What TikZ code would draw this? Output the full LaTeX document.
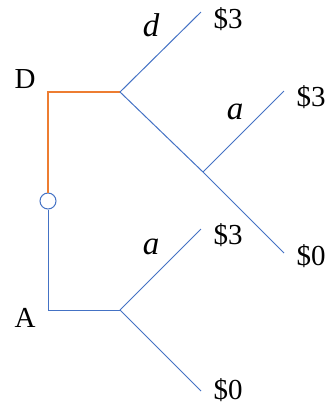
\documentclass[tikz,border=0pt]{standalone}
\usepackage{fontspec}
\setmainfont{Liberation Serif}
\definecolor{branchBlue}{RGB}{68,114,196}
\definecolor{pathOrange}{RGB}{237,125,49}

\begin{document}
\begin{tikzpicture}[x=1pt, y=-1pt, font=\fontsize{29}{34}\selectfont,
		branch/.style={branchBlue, line width=1pt},
		chosen/.style={pathOrange, line width=2.8pt},
		payoff/.style={anchor=center, inner sep=0pt},
		action/.style={anchor=center, inner sep=0pt, font=\fontsize{33}{38}\selectfont\itshape}]
		\useasboundingbox (0,0) rectangle (325,408);
		% decision points and ends of branches, one unit is one pixel
		\coordinate (dtop) at (48,92);
		\coordinate (dnode) at (120,92);
		\coordinate (dup) at (201,12);
		\coordinate (anode2) at (203,172);
		\coordinate (aup2) at (284,91);
		\coordinate (adown2) at (284,253);
		\coordinate (abot) at (48,310);
		\coordinate (anode) at (120,310);
		\coordinate (aup) at (201,229);
		\coordinate (adown) at (201,391);
		\node[draw=branchBlue, line width=1pt, circle, minimum size=16pt, inner sep=0pt] (start) at (48,201) {};
		% player labels
		\node[payoff] (labD) at (25,79) {D};
		\node[payoff] (labA) at (25,318) {A};
		% upper tree (D moves first)
		\draw[chosen, line join=miter] (start.north) -- (dtop) -- (dnode);
		\draw[branch] (dnode) -- (dup);
		\draw[branch] (dnode) -- (anode2) -- (adown2);
		\draw[branch] (anode2) -- (aup2);
		% lower tree (A moves)
		\draw[branch] (start.south) -- (abot) -- (anode);
		\draw[branch] (anode) -- (aup);
		\draw[branch] (anode) -- (adown);
		% action labels
		\node[action] (actd) at (151,25) {d};
		\node[action] (acta2) at (235,112) {a};
		\node[action] (acta) at (151,247) {a};
		% payoffs
		\node[payoff] (pay1) at (228,19) {\$3};
		\node[payoff] (pay2) at (311,97) {\$3};
		\node[payoff] (pay3) at (311,256) {\$0};
		\node[payoff] (pay4) at (228,235) {\$3};
		\node[payoff] (pay5) at (228,390) {\$0};
	\end{tikzpicture}
\end{document}
